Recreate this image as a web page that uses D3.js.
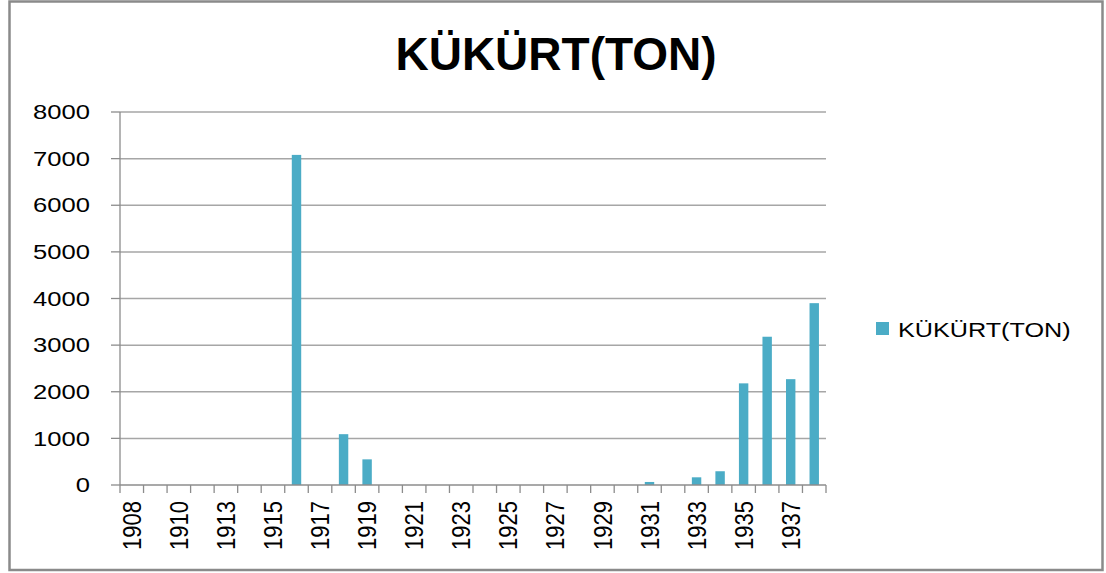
<!DOCTYPE html>
<html lang="tr">
<head>
<meta charset="UTF-8">
<title>KÜKÜRT(TON)</title>
<script src="https://cdn.jsdelivr.net/npm/d3@7"></script>
<style>
  body { margin: 0; background: #fff; }
  #chart text { font-family: "Liberation Sans", Arial, sans-serif; fill: #000; }
</style>
</head>
<body>
<div id="chart"></div>
<script>
"use strict"
// yillar (1911/1912'den biri tabloda yok)
var yillar = ["1908","1909","1910","1911","1913","1914","1915","1916","1917","1918",
              "1919","1920","1921","1922","1923","1924","1925","1926","1927","1928",
              "1929","1930","1931","1932","1933","1934","1935","1936","1937","1938"];
var kukurt = [0, 0, 0, 0, 0, 0, 0, 7080, 0, 1090,
              550, 0, 0, 0, 0, 0, 0, 0, 0, 0,
              0, 0, 65, 0, 165, 295, 2180, 3180, 2270, 3900];
var yTicks = [0, 1000, 2000, 3000, 4000, 5000, 6000, 7000, 8000];
var seriAdi = "KÜKÜRT(TON)";

var W = 1106, H = 573;
var plot = {left: 120, right: 826, top: 112, bottom: 485};
var renk = "#4BACC6";

var svg = d3.select("#chart").append("svg")
    .attr("width", W).attr("height", H);

svg.append("rect")
    .attr("x", 9.5).attr("y", 1.5).attr("width", 1093).attr("height", 568.5)
    .attr("fill", "#fff").attr("stroke", "#8a8a8a").attr("stroke-width", 2.5);

var x = d3.scaleBand().domain(yillar).range([plot.left, plot.right]).padding(0);
var y = d3.scaleLinear().domain([0, 8000]).range([plot.bottom, plot.top]);

// grid
svg.append("g").selectAll("line")
  .data(yTicks.filter(d => d > 0))
  .enter().append("line")
    .attr("x1", plot.left).attr("x2", plot.right)
    .attr("y1", d => y(d)).attr("y2", d => y(d))
    .attr("stroke", "#a6a6a6").attr("stroke-width", 1.5);

// y ekseni
var yAx = svg.append("g");
yAx.append("line")
    .attr("x1", plot.left).attr("x2", plot.left)
    .attr("y1", plot.top).attr("y2", plot.bottom)
    .attr("stroke", "#8c8c8c").attr("stroke-width", 1.3);
yAx.selectAll(".tk").data(yTicks).enter().append("line")
    .attr("x1", plot.left - 9).attr("x2", plot.left)
    .attr("y1", d => y(d)).attr("y2", d => y(d))
    .attr("stroke", "#8c8c8c").attr("stroke-width", 1.3);
yAx.selectAll("text").data(yTicks).enter().append("text")
    .attr("transform", d => "translate(90," + y(d) + ") scale(1.28,1)")
    .attr("dy", "0.36em")
    .attr("text-anchor", "end")
    .style("font-size", "20px")
    .text(d => d);

// cubuklar
var bw = x.bandwidth() * 0.4;
svg.append("g").selectAll("rect")
  .data(yillar.map((d, i) => ({yil: d, v: kukurt[i]})).filter(d => d.v > 0))
  .enter().append("rect")
    .attr("x", d => x(d.yil) + x.bandwidth() / 2 - bw / 2)
    .attr("y", d => y(d.v))
    .attr("width", bw)
    .attr("height", d => y(0) - y(d.v))
    .attr("fill", renk);

// x ekseni
var xAx = svg.append("g");
xAx.append("line")
    .attr("x1", plot.left).attr("x2", plot.right)
    .attr("y1", plot.bottom).attr("y2", plot.bottom)
    .attr("stroke", "#8c8c8c").attr("stroke-width", 1.3);
var sinirlar = yillar.map(d => x(d)).concat([plot.right]);
xAx.selectAll(".tk").data(sinirlar).enter().append("line")
    .attr("x1", d => d).attr("x2", d => d)
    .attr("y1", plot.bottom).attr("y2", plot.bottom + 8)
    .attr("stroke", "#8c8c8c").attr("stroke-width", 1.3);
xAx.selectAll("text").data(yillar.filter((d, i) => i % 2 == 0)).enter().append("text")
    .attr("transform", d => "translate(" + (x(d) + x.bandwidth() / 2) + ",501) scale(1.15,1) rotate(-90)")
    .attr("dy", "0.36em")
    .attr("text-anchor", "end")
    .style("font-size", "22px")
    .text(d => d);

// baslik
svg.append("text")
    .attr("x", 556).attr("y", 70)
    .attr("text-anchor", "middle")
    .style("font-size", "46px").style("font-weight", "bold")
    .text(seriAdi);

// lejant
svg.append("rect")
    .attr("x", 876).attr("y", 322).attr("width", 13).attr("height", 13)
    .attr("fill", renk);
svg.append("text")
    .attr("transform", "translate(898,337) scale(1.2,1)")
    .style("font-size", "21px")
    .text(seriAdi);
</script>
</body>
</html>
